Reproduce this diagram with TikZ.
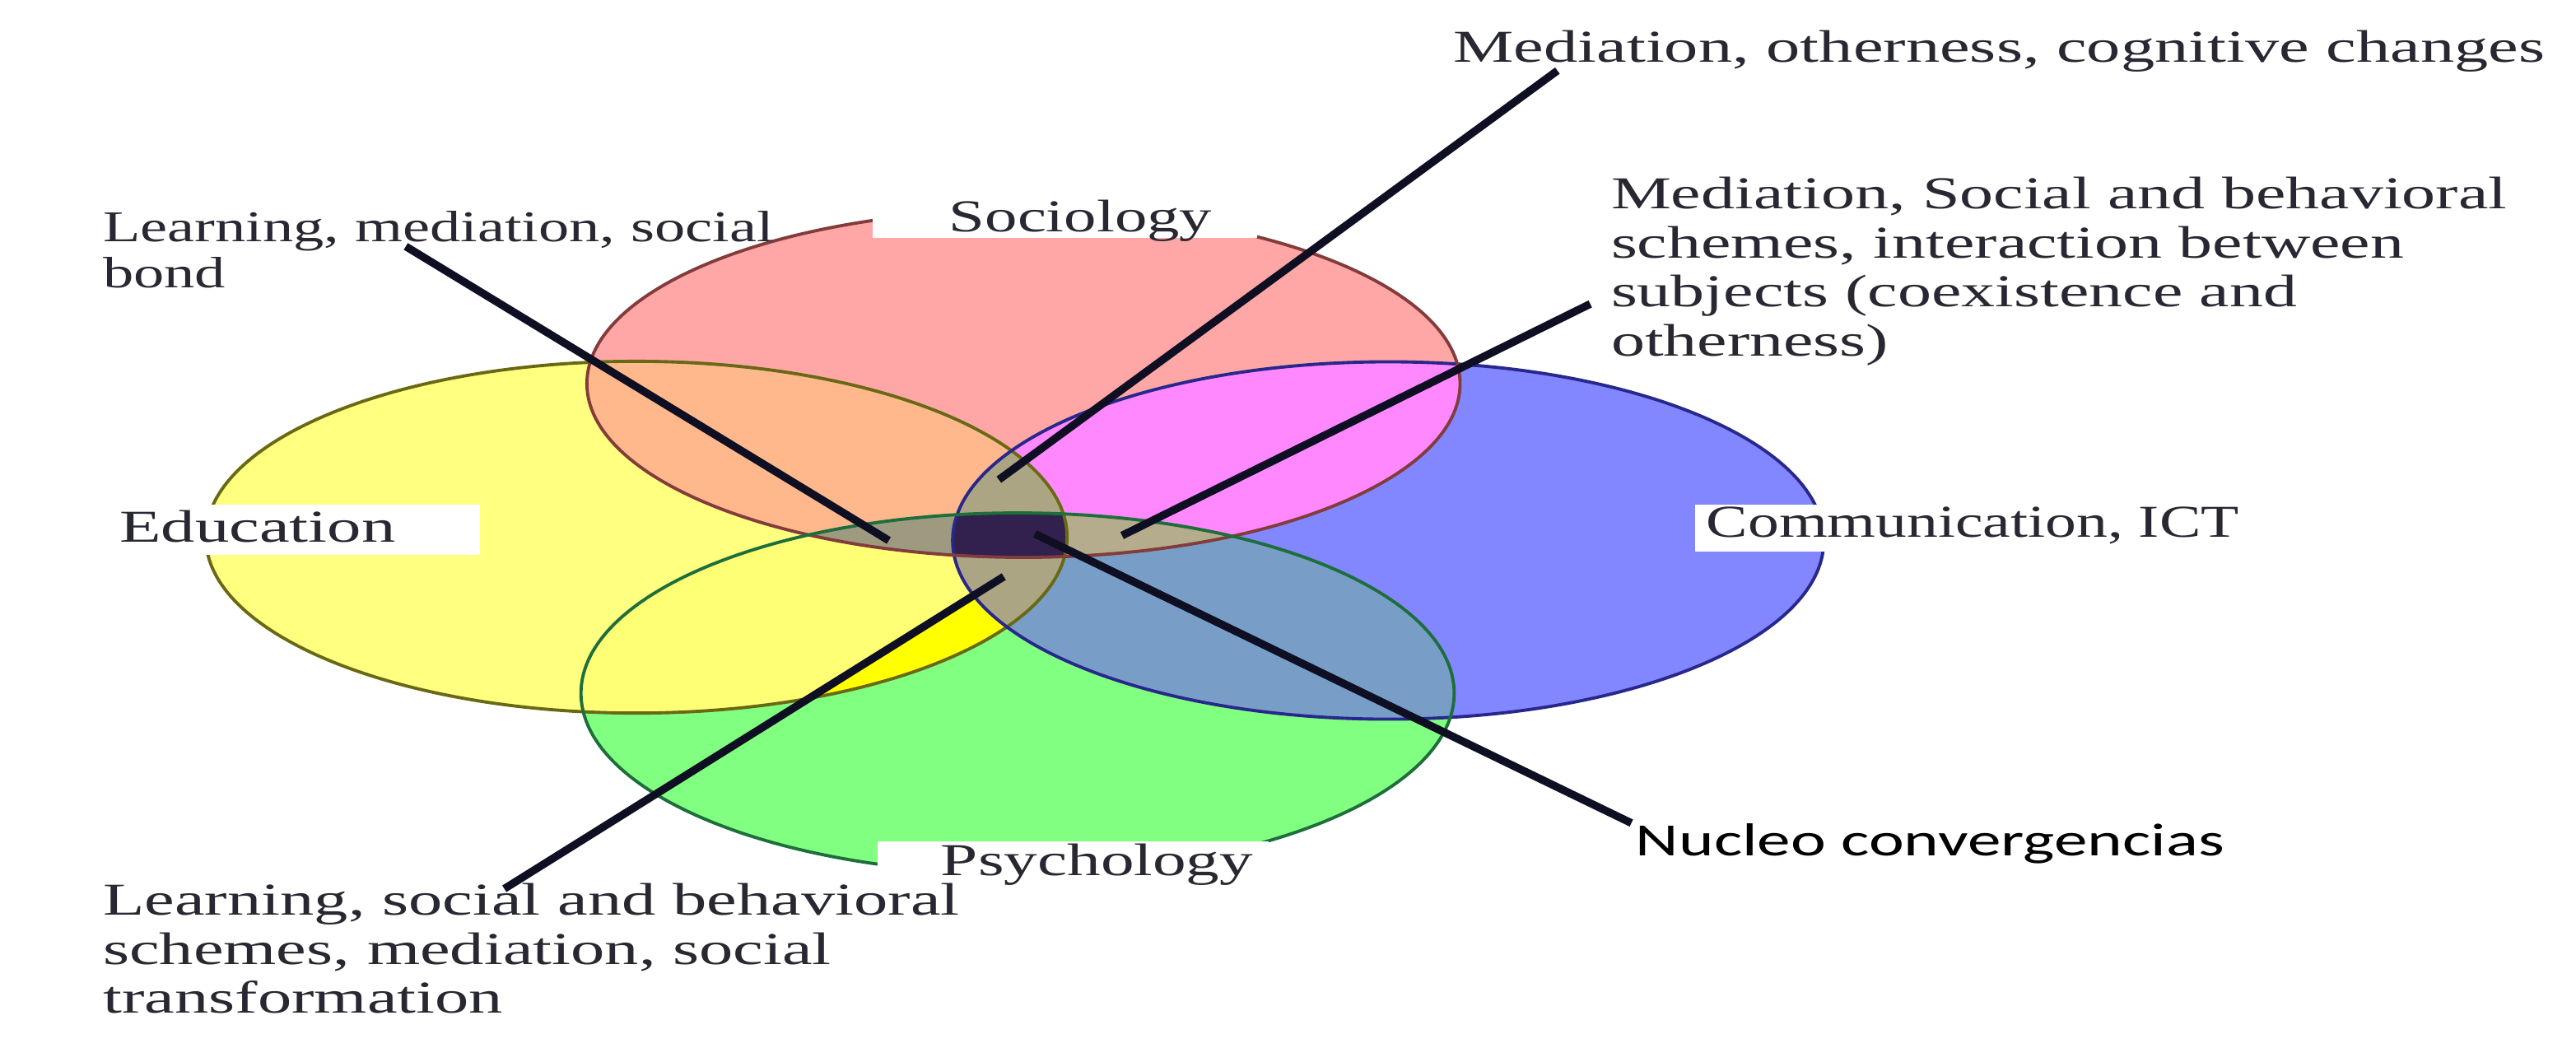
\documentclass[tikz,border=0pt]{standalone}
\usepackage{fontspec}
\usepackage{graphicx}
\setmainfont{Liberation Serif}
\newfontfamily\nucleofont{Carlito}
\definecolor{colS}{RGB}{255,166,166}
\definecolor{colE}{RGB}{255,255,128}
\definecolor{colC}{RGB}{130,134,255}
\definecolor{colP}{RGB}{128,255,128}
\definecolor{colSE}{RGB}{255,184,140}
\definecolor{colSC}{RGB}{255,136,255}
\definecolor{colEP}{RGB}{255,255,118}
\definecolor{colBright}{RGB}{255,255,0}
\definecolor{colCP}{RGB}{120,158,200}
\definecolor{colEC}{RGB}{172,165,132}
\definecolor{colSPE}{RGB}{158,154,128}
\definecolor{colSPC}{RGB}{180,172,140}
\definecolor{colCore}{RGB}{50,32,78}
\definecolor{edgeS}{RGB}{130,60,60}
\definecolor{edgeE}{RGB}{105,105,20}
\definecolor{edgeC}{RGB}{40,40,140}
\definecolor{edgeP}{RGB}{30,110,60}
\definecolor{inkT}{RGB}{40,40,50}
\definecolor{inkL}{RGB}{15,15,35}
\newcommand\ellS{(623,233.5) ellipse [x radius=2.656cm, y radius=1.057cm]}
\newcommand\ellE{(387.4,327) ellipse [x radius=2.62cm, y radius=1.07cm]}
\newcommand\ellC{(845,329) ellipse [x radius=2.65cm, y radius=1.087cm]}
\newcommand\ellP{(619.4,422) ellipse [x radius=2.656cm, y radius=1.097cm]}
\newcommand\fitw[2]{\resizebox{#1}{\height}{#2}}
\tikzset{
  lab/.style={inner sep=0pt, anchor=base west, text=inkT, font=\fontsize{7.9}{8.5}\selectfont},
  nuc/.style={inner sep=0pt, anchor=base west, text=black, font=\nucleofont\fontsize{8}{9}\selectfont},
  whitebox/.style={fill=white, draw=none},
  conn/.style={draw=inkL, line width=1.35pt},
  edge/.style={line width=0.55pt}
}
\begin{document}
\begin{tikzpicture}[x=0.01cm, y=-0.01cm]
\useasboundingbox (0,0) rectangle (1568,646);
\fill[white] (0,0) rectangle (1568,646);
% base fills
\fill[colS] \ellS;
\fill[colE] \ellE;
\fill[colC] \ellC;
\fill[colP] \ellP;
% pair overlaps
\begin{scope}
  \clip \ellS;
  \fill[colSE] \ellE;
  \fill[colSC] \ellC;
\end{scope}
\begin{scope}
  \clip \ellP;
  \fill[colEP] \ellE;
  \fill[colCP] \ellC;
\end{scope}
\begin{scope}
  \clip \ellP;
  \clip \ellE;
  \fill[colBright] (3,731) -- (1219,-29) -- (1600,700) -- cycle;
\end{scope}
\begin{scope}
  \clip \ellE;
  \fill[colEC] \ellC;
\end{scope}
\begin{scope}
  \clip \ellS;
  \clip \ellP;
  \fill[colSPE] \ellE;
  \fill[colSPC] \ellC;
\end{scope}
\begin{scope}
  \clip \ellS;
  \clip \ellP;
  \clip \ellE;
  \fill[colCore] \ellC;
\end{scope}
% outlines
\draw[edge, edgeE] \ellE;
\draw[edge, edgeC] \ellC;
\draw[edge, edgeS] \ellS;
\draw[edge, edgeP] \ellP;
% white label boxes
\fill[whitebox] (531,108) rectangle (765,145);
\fill[whitebox] (534,512) rectangle (772,548);
\fill[whitebox] (65,307) rectangle (292,338);
\fill[whitebox] (1032,307) rectangle (1372,336);
% circle labels
\node[lab] (soc) at (577,141) {\fitw{1.60cm}{Sociology}};
\node[lab] (psy) at (572,533) {\fitw{1.90cm}{Psychology}};
\node[lab] (edu) at (72,330) {\fitw{1.68cm}{Education}};
\node[lab] (com) at (1038,327) {\fitw{3.24cm}{Communication, ICT}};
% callout labels
\node[lab, font=\fontsize{7.6}{8}\selectfont] (t1) at (62,147)
  {\fitw{4.08cm}{\begin{tabular}[t]{@{}l@{}}Learning, mediation, social\\bond\end{tabular}}};
\node[lab] (t2) at (884,38)
  {\fitw{6.64cm}{Mediation, otherness, cognitive changes}};
\node[lab] (t3) at (980,127)
  {\fitw{5.45cm}{\begin{tabular}[t]{@{}l@{}}Mediation, Social and behavioral\\schemes, interaction between\\subjects (coexistence and\\otherness)\end{tabular}}};
\node[lab] (t4) at (62,557)
  {\fitw{5.21cm}{\begin{tabular}[t]{@{}l@{}}Learning, social and behavioral\\schemes, mediation, social\\transformation\end{tabular}}};
\node[nuc] (t5) at (995,521) {\fitw{3.58cm}{Nucleo convergencias}};
% connector end points
\coordinate (a1) at (247,150);
\coordinate (b1) at (541,329);
\coordinate (a2) at (948,43);
\coordinate (b2) at (608,292);
\coordinate (a3) at (968,185);
\coordinate (b3) at (683,326);
\coordinate (a4) at (307,541);
\coordinate (b4) at (611,351);
\coordinate (a5) at (993,501);
\coordinate (b5) at (630,325);
% connectors
\draw[conn] (a1) -- (b1);
\draw[conn] (a2) -- (b2);
\draw[conn] (a3) -- (b3);
\draw[conn] (a4) -- (b4);
\draw[conn] (b5) -- (a5);
\end{tikzpicture}
\end{document}
